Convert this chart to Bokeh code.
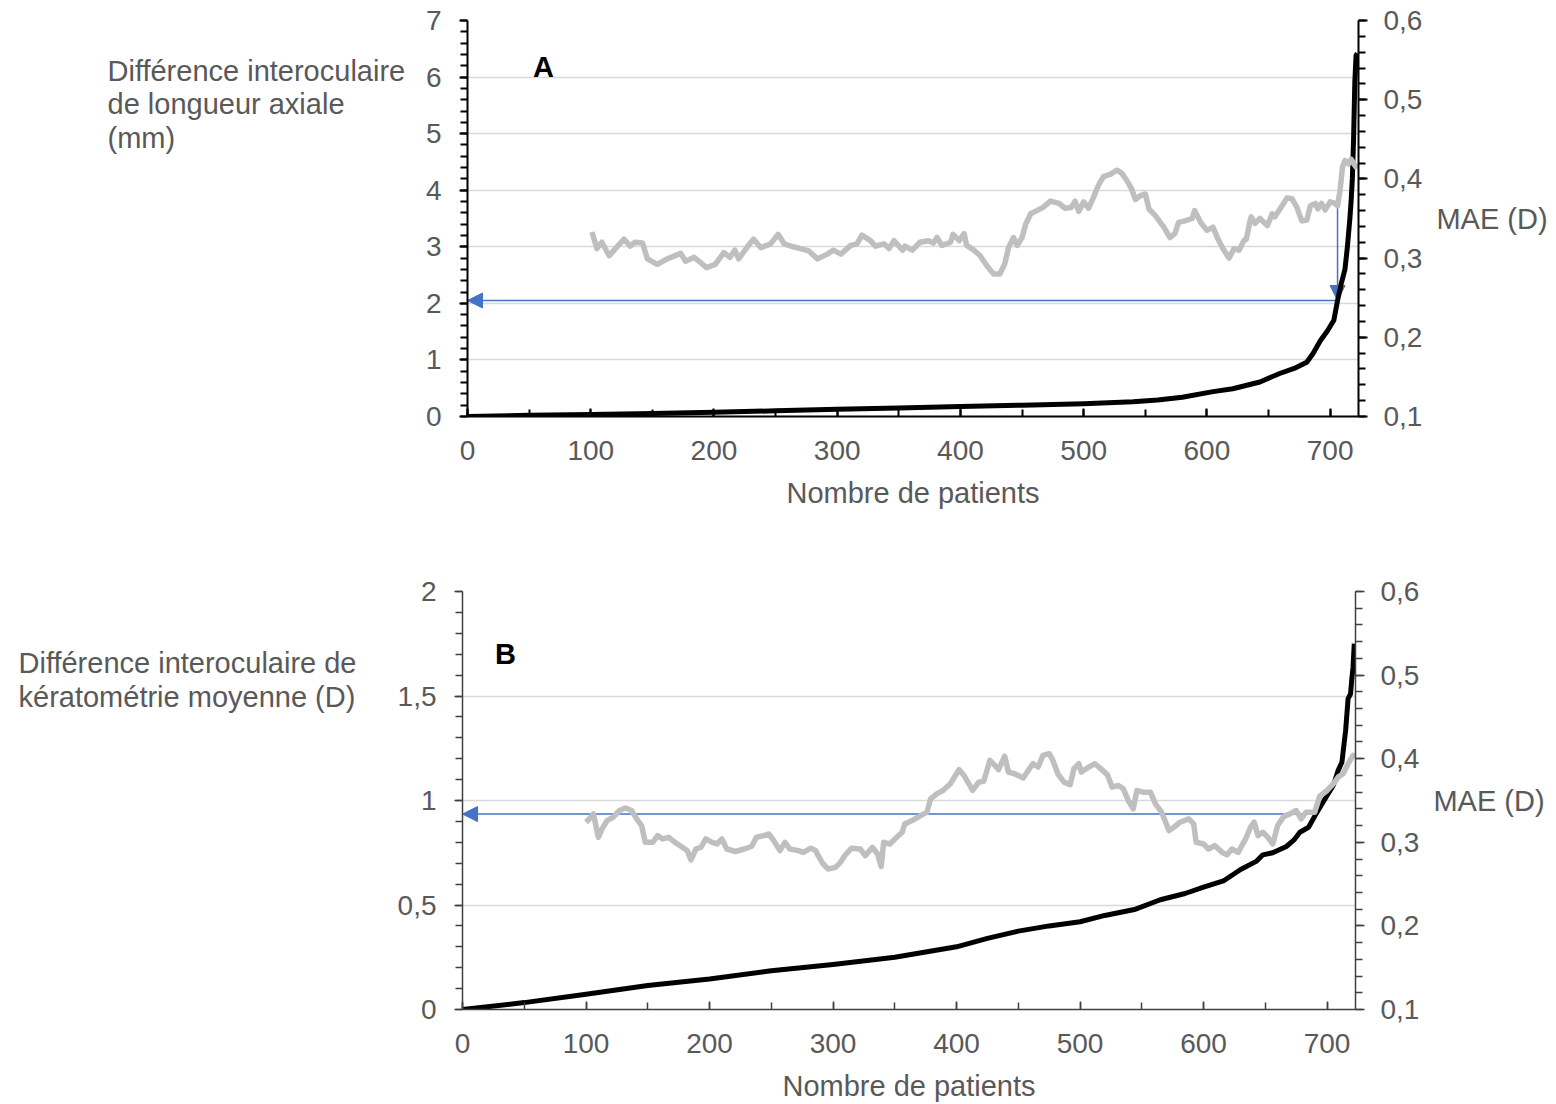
from bokeh.plotting import figure
from bokeh.models import (Range1d, LinearAxis, SingleIntervalTicker, FixedTicker,
                          CustomJSTickFormatter, Label, Arrow, NormalHead)
from bokeh.layouts import column, row
from bokeh.embed import file_html
from bokeh.resources import INLINE

FONT = "Liberation Sans"
TEXT_GREY = "#595959"
MAE_GREY = "#bfbfbf"
BLUE = "#4472c4"
GRID = "#d9d9d9"

X_END = 723
MAE_START, MAE_END = 0.1, 0.6

# ---------------- Panel A: interocular axial length difference ----------------
a_cum_patients = [0, 50, 100, 150, 200, 250, 300, 350, 400, 450, 500, 540, 560, 580,
                  605, 621, 643, 659, 672, 681, 686, 692, 698, 703, 706, 709, 712, 714,
                  716, 717, 718, 719, 720, 721, 722]
a_cum_al = [0.0, 0.02, 0.035, 0.055, 0.076, 0.10, 0.13, 0.15, 0.175, 0.20, 0.225, 0.26,
            0.29, 0.34, 0.44, 0.49, 0.61, 0.76, 0.86, 0.96, 1.11, 1.34, 1.52, 1.70, 2.05,
            2.35, 2.6, 3.0, 3.5, 3.8, 4.2, 4.9, 5.9, 6.38, 6.42]

a_mae_patients = [101, 105, 109, 115, 120, 127, 132, 136, 142, 146, 154, 162, 173, 177,
                  184, 194, 201, 208, 213, 217, 220, 227, 232, 238, 246, 252, 257, 265,
                  270, 277, 284, 292, 297, 303, 311, 316, 320, 327, 331, 338, 342, 346,
                  353, 355, 361, 367, 374, 378, 381, 385, 392, 394, 399, 403, 405, 411,
                  416, 422, 427, 432, 436, 439, 443, 446, 450, 453, 457, 462, 467, 473,
                  480, 485, 490, 493, 496, 500, 504, 508, 512, 516, 522, 527, 531, 535,
                  539, 542, 546, 550, 553, 558, 565, 570, 574, 577, 582, 588, 590, 595,
                  600, 605, 609, 613, 618, 622, 626, 630, 632, 635, 636, 639, 643, 649,
                  653, 655, 661, 665, 669, 673, 677, 681, 684, 688, 690, 693, 696, 700,
                  704, 706, 708, 710, 712, 715, 717, 720, 722]
a_mae = [0.333, 0.312, 0.320, 0.303, 0.312, 0.324, 0.315, 0.320, 0.319, 0.299, 0.292,
         0.299, 0.306, 0.296, 0.301, 0.288, 0.292, 0.307, 0.301, 0.310, 0.299, 0.314,
         0.324, 0.313, 0.318, 0.330, 0.318, 0.314, 0.312, 0.309, 0.299, 0.305, 0.310,
         0.305, 0.316, 0.318, 0.329, 0.322, 0.315, 0.318, 0.312, 0.322, 0.310, 0.315,
         0.310, 0.320, 0.322, 0.319, 0.326, 0.316, 0.320, 0.330, 0.322, 0.331, 0.316,
         0.310, 0.303, 0.289, 0.280, 0.280, 0.293, 0.313, 0.326, 0.316, 0.326, 0.343,
         0.356, 0.360, 0.364, 0.372, 0.369, 0.363, 0.364, 0.372, 0.359, 0.371, 0.363,
         0.377, 0.392, 0.403, 0.406, 0.411, 0.407, 0.398, 0.387, 0.374, 0.379, 0.381,
         0.362, 0.354, 0.339, 0.326, 0.331, 0.345, 0.347, 0.350, 0.360, 0.345, 0.335,
         0.339, 0.324, 0.312, 0.300, 0.312, 0.310, 0.322, 0.324, 0.347, 0.352, 0.344,
         0.350, 0.341, 0.356, 0.352, 0.366, 0.376, 0.375, 0.364, 0.347, 0.348, 0.366,
         0.369, 0.362, 0.369, 0.361, 0.371, 0.369, 0.366, 0.385, 0.415, 0.423, 0.419,
         0.425, 0.417, 0.413]

a_cut_patient = 706      # patient rank where the MAE jumps
a_cut_mae = 0.366        # MAE at that rank
a_cut_value = 2.05       # corresponding interocular AL difference (mm)

# ---------------- Panel B: interocular mean keratometry difference ----------------
b_cum_patients = [0, 50, 100, 150, 200, 250, 300, 350, 400, 425, 450, 475, 500, 520,
                  545, 565, 585, 600, 616, 630, 643, 648, 656, 667, 673, 678, 685, 691,
                  695, 700, 705, 709, 712, 715, 717, 719, 720, 721, 722]
b_cum_k = [0.0, 0.033, 0.073, 0.115, 0.146, 0.185, 0.215, 0.25, 0.30, 0.34, 0.375,
           0.40, 0.42, 0.45, 0.48, 0.525, 0.555, 0.585, 0.615, 0.67, 0.71, 0.74, 0.75,
           0.78, 0.81, 0.848, 0.872, 0.935, 0.975, 1.024, 1.072, 1.144, 1.183, 1.335,
           1.487, 1.51, 1.58, 1.638, 1.75]

b_mae_patients = [100, 104, 106, 110, 113, 117, 122, 127, 132, 137, 141, 145, 148, 154,
                  158, 162, 167, 172, 178, 182, 185, 189, 193, 197, 202, 206, 210, 214,
                  221, 228, 234, 238, 244, 248, 252, 257, 261, 265, 272, 276, 282, 286,
                  288, 292, 296, 302, 306, 310, 315, 322, 326, 332, 336, 339, 341, 346,
                  350, 356, 358, 364, 371, 376, 379, 384, 389, 395, 402, 406, 410, 413,
                  418, 422, 427, 431, 434, 439, 442, 447, 454, 458, 462, 466, 470, 475,
                  478, 482, 487, 492, 495, 499, 501, 505, 512, 516, 522, 526, 531, 535,
                  539, 543, 546, 551, 557, 561, 566, 572, 576, 581, 588, 592, 594, 600,
                  604, 609, 615, 619, 623, 628, 634, 638, 641, 644, 648, 652, 656, 660,
                  665, 670, 675, 679, 683, 690, 694, 700, 705, 709, 713, 717, 721, 722]
b_mae = [0.324, 0.330, 0.334, 0.306, 0.316, 0.326, 0.330, 0.338, 0.341, 0.338, 0.328,
         0.320, 0.300, 0.300, 0.308, 0.304, 0.306, 0.300, 0.294, 0.290, 0.279, 0.292,
         0.294, 0.304, 0.300, 0.298, 0.304, 0.292, 0.289, 0.292, 0.295, 0.306, 0.308,
         0.310, 0.302, 0.290, 0.300, 0.292, 0.290, 0.288, 0.293, 0.290, 0.284, 0.274,
         0.268, 0.270, 0.276, 0.285, 0.293, 0.292, 0.284, 0.294, 0.286, 0.271, 0.300,
         0.298, 0.304, 0.312, 0.322, 0.326, 0.332, 0.336, 0.352, 0.358, 0.362, 0.370,
         0.387, 0.380, 0.370, 0.362, 0.372, 0.373, 0.398, 0.392, 0.387, 0.403, 0.384,
         0.382, 0.377, 0.386, 0.394, 0.390, 0.404, 0.406, 0.398, 0.382, 0.372, 0.369,
         0.388, 0.394, 0.384, 0.388, 0.394, 0.389, 0.381, 0.366, 0.368, 0.364, 0.350,
         0.340, 0.362, 0.360, 0.360, 0.346, 0.336, 0.314, 0.318, 0.324, 0.328, 0.322,
         0.300, 0.298, 0.292, 0.296, 0.288, 0.285, 0.292, 0.288, 0.304, 0.318, 0.324,
         0.308, 0.312, 0.306, 0.298, 0.320, 0.331, 0.334, 0.338, 0.328, 0.336, 0.336,
         0.355, 0.362, 0.370, 0.378, 0.382, 0.394, 0.404, 0.402]

b_cut_patient = 691
b_cut_value = 0.935      # interocular keratometry difference (D) at the cut

a_side_title = ["Différence interoculaire", "de longueur axiale", "(mm)"]
b_side_title = ["Différence interoculaire de", "kératométrie moyenne (D)"]

mae_major = [round(MAE_START + 0.1 * i, 2) for i in range(6)]
mae_minor = [round(MAE_START + 0.02 * i, 2) for i in range(26)]

COMMA_FMT = CustomJSTickFormatter(
    code="return (Math.round(tick * 10) / 10).toString().replace('.', ',');")


def style_axis(ax, color, width):
    ax.axis_line_color = color
    ax.axis_line_width = width
    ax.major_tick_line_color = color
    ax.minor_tick_line_color = color
    ax.major_tick_line_width = width
    ax.minor_tick_line_width = width
    ax.major_label_text_font = FONT
    ax.major_label_text_font_size = "28px"
    ax.major_label_text_color = TEXT_GREY
    ax.axis_label_text_font = FONT
    ax.axis_label_text_font_size = "29px"
    ax.axis_label_text_color = TEXT_GREY
    ax.axis_label_text_font_style = "normal"


def side_title(width, height, frame_bottom, lines, x, y_top, step):
    """Blank canvas carrying the horizontal multi-line y-axis title.

    Inside a row its frame is aligned with the neighbouring chart frame,
    so label positions are measured up from that frame's bottom edge."""
    s = figure(width=width, height=height, x_range=Range1d(0, 1), y_range=Range1d(0, 1),
               output_backend="svg", toolbar_location=None,
               x_axis_location=None, y_axis_location=None,
               min_border=0, min_border_left=0, min_border_right=0,
               min_border_top=0, min_border_bottom=0)
    s.outline_line_color = None
    s.grid.visible = False
    for i, line in enumerate(lines):
        s.add_layout(Label(x=x, y=frame_bottom - (y_top + i * step), x_units="screen",
                           y_units="screen", text=line, text_font=FONT,
                           text_font_size="29px", text_color=TEXT_GREY,
                           text_align="left", text_baseline="middle"))
    return s


def make_panel(width, height, borders, y_end, y_step, cum_x, cum_y, mae_x, mae_y,
               letter, letter_xy, axis_color, axis_width):
    left, right, top, bottom = borders
    p = figure(width=width, height=height, x_range=Range1d(0, X_END),
               y_range=Range1d(0, y_end), output_backend="svg",
               toolbar_location=None, min_border_left=left, min_border_right=right,
               min_border_top=top, min_border_bottom=bottom)
    p.extra_y_ranges = {"mae": Range1d(MAE_START, MAE_END)}
    p.outline_line_color = None

    p.xgrid.visible = False
    p.ygrid.grid_line_color = GRID
    p.ygrid.grid_line_width = 1.5

    # bottom axis: patient count, ticks pointing inward
    xa = p.xaxis[0]
    xa.ticker = SingleIntervalTicker(interval=100, num_minor_ticks=2)
    style_axis(xa, axis_color, axis_width)
    xa.major_tick_in, xa.major_tick_out = 8, 0
    xa.minor_tick_in, xa.minor_tick_out = 7, 0
    xa.major_label_standoff = 24
    xa.axis_label = "Nombre de patients"
    xa.axis_label_standoff = 14

    # left axis: interocular difference
    ya = p.yaxis[0]
    ya.ticker = SingleIntervalTicker(interval=y_step, num_minor_ticks=5)
    ya.formatter = COMMA_FMT
    style_axis(ya, axis_color, axis_width)
    ya.major_tick_in, ya.major_tick_out = 0, 8
    ya.minor_tick_in, ya.minor_tick_out = 0, 7
    ya.major_label_standoff = 18

    # right axis: MAE
    ra = LinearAxis(y_range_name="mae",
                    ticker=FixedTicker(ticks=mae_major, minor_ticks=mae_minor),
                    formatter=CustomJSTickFormatter(
                        code="return tick.toFixed(1).replace('.', ',');"),
                    axis_label="MAE (D)", axis_label_orientation="horizontal")
    style_axis(ra, axis_color, axis_width)
    ra.major_tick_in, ra.major_tick_out = 0, 9
    ra.minor_tick_in, ra.minor_tick_out = 0, 7
    ra.major_label_standoff = 16
    ra.axis_label_standoff = 11
    p.add_layout(ra, "right")

    p.line(cum_x, cum_y, line_color="black", line_width=5, line_join="round")
    p.line(mae_x, mae_y, y_range_name="mae", line_color=MAE_GREY, line_width=5.5,
           line_join="round")

    p.add_layout(Label(x=letter_xy[0], y=letter_xy[1], x_units="screen",
                       y_units="screen", text=letter, text_font=FONT,
                       text_font_size="29px", text_font_style="bold",
                       text_color="black", text_align="center",
                       text_baseline="middle"))
    return p


def mae_to_left(v, y_end):
    return (v - MAE_START) / (MAE_END - MAE_START) * y_end


def arrow(p, x0, y0, x1, y1):
    p.add_layout(Arrow(end=NormalHead(size=15, fill_color=BLUE, line_color=BLUE),
                       x_start=x0, y_start=y0, x_end=x1, y_end=y1,
                       line_color=BLUE, line_width=1.5, level="underlay"))


TOP_H, BOT_H = 545, 559
A_SIDE_W, B_SIDE_W = 410, 380
A_BORDERS = (467 - A_SIDE_W, 198, 20, 129)
B_BORDERS = (462 - B_SIDE_W, 201, 46, 95)

top = make_panel(1556 - A_SIDE_W, TOP_H, A_BORDERS, 7, 1,
                 a_cum_patients, a_cum_al, a_mae_patients, a_mae, "A", (76, 350),
                 "black", 2)
bottom = make_panel(1556 - B_SIDE_W, BOT_H, B_BORDERS, 2, 0.5,
                    b_cum_patients, b_cum_k, b_mae_patients, b_mae, "B", (43, 356),
                    "#404040", 1.5)

# A: from the MAE jump down to the cumulative curve, then across to the axis
arrow(top, a_cut_patient, mae_to_left(a_cut_mae, 7), a_cut_patient, a_cut_value)
arrow(top, a_cut_patient, a_cut_value, 0, a_cut_value)
# B: from the cumulative curve across to the axis
arrow(bottom, b_cut_patient, b_cut_value, 0, b_cut_value)

side_a = side_title(A_SIDE_W, TOP_H, TOP_H - A_BORDERS[3], a_side_title, 107, 70, 33.5)
side_b = side_title(B_SIDE_W, BOT_H, BOT_H - B_BORDERS[3], b_side_title, 18,
                    662 - TOP_H, 34)

layout = column(row(side_a, top, spacing=0), row(side_b, bottom, spacing=0), spacing=0)
with open("out.html", "w") as f:
    f.write(file_html(layout, INLINE))
